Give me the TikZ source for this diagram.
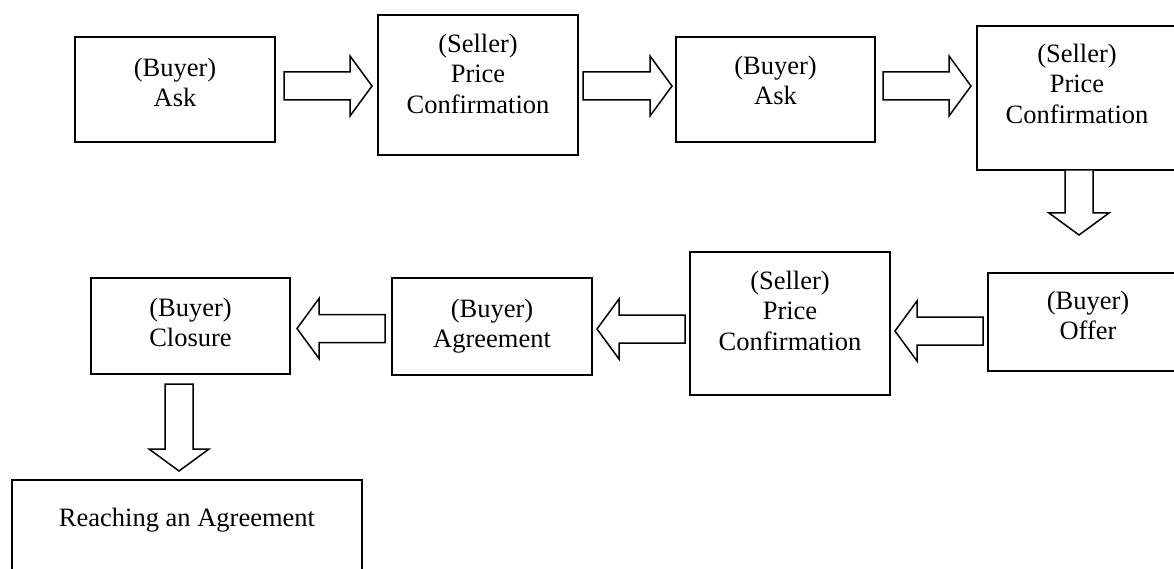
\documentclass[tikz,border=0pt]{standalone}
\usepackage{fontspec}
\setmainfont{Liberation Serif}
\usetikzlibrary{calc}
\tikzset{
  box/.style={draw, line width=1.8pt, rectangle, inner sep=0pt},
  lbl/.style={anchor=north, align=center, inner sep=0pt, font=\fontsize{26.5}{30.5}\selectfont},
  barrowstyle/.style={draw, line width=1.5pt, fill=white, line join=miter}
}
\newcommand\blockarrow[2]{%
  \coordinate (tmpH) at ($(#2)!22pt!(#1)$);
  \draw[barrowstyle] ($(#1)!14pt!90:(#2)$) -- ($(tmpH)!14pt!90:(#2)$) -- ($(tmpH)!30pt!90:(#2)$) -- (#2) -- ($(tmpH)!30pt!-90:(#2)$) -- ($(tmpH)!14pt!-90:(#2)$) -- ($(#1)!14pt!-90:(#2)$) -- cycle;}
\begin{document}
\begin{tikzpicture}[x=1pt,y=-1pt]
\useasboundingbox (0,0) rectangle (1174,569);
\clip (0,0) rectangle (1174,569);
% boxes
\node[box, minimum width=200pt, minimum height=105pt] (b1) at (175,89.5) {};
\node[box, minimum width=200pt, minimum height=140pt] (b2) at (478,85) {};
\node[box, minimum width=199pt, minimum height=105pt] (b3) at (775.5,89.5) {};
\node[box, minimum width=200pt, minimum height=144pt] (b4) at (1077,98) {};
\node[box, minimum width=200pt, minimum height=98pt] (b5) at (1088,322) {};
\node[box, minimum width=200pt, minimum height=143pt] (b6) at (790,323.5) {};
\node[box, minimum width=200pt, minimum height=97pt] (b7) at (492,326.5) {};
\node[box, minimum width=199pt, minimum height=96pt] (b8) at (190.5,326) {};
\node[box, minimum width=350pt, minimum height=120pt] (b9) at (187,540) {};
% texts
\node[lbl] (t1) at (175,57.5) {(Buyer)\\Ask};
\node[lbl] (t2) at (478,33.5) {(Seller)\\Price\\Confirmation};
\node[lbl] (t3) at (775.5,55.5) {(Buyer)\\Ask};
\node[lbl] (t4) at (1077,43.5) {(Seller)\\Price\\Confirmation};
\node[lbl] (t5) at (1088,290.5) {(Buyer)\\Offer};
\node[lbl] (t6) at (790,270.5) {(Seller)\\Price\\Confirmation};
\node[lbl] (t7) at (492,298.5) {(Buyer)\\Agreement};
\node[lbl] (t8) at (190.5,297.5) {(Buyer)\\Closure};
\node[lbl] (t9) at (187,507.5) {Reaching an Agreement};
% arrow end points
\coordinate (a1s) at (284,86);   \coordinate (a1e) at (372,86);
\coordinate (a2s) at (583,86);   \coordinate (a2e) at (672,86);
\coordinate (a3s) at (883,86);   \coordinate (a3e) at (971,86);
\coordinate (a4s) at (1079,170); \coordinate (a4e) at (1079,235);
\coordinate (a5s) at (983,331);  \coordinate (a5e) at (895,331);
\coordinate (a6s) at (685,329);  \coordinate (a6e) at (597,329);
\coordinate (a7s) at (385,328.5);\coordinate (a7e) at (297,328.5);
\coordinate (a8s) at (179,384);  \coordinate (a8e) at (179,471);
\blockarrow{a1s}{a1e}
\blockarrow{a2s}{a2e}
\blockarrow{a3s}{a3e}
\blockarrow{a4s}{a4e}
\blockarrow{a5s}{a5e}
\blockarrow{a6s}{a6e}
\blockarrow{a7s}{a7e}
\blockarrow{a8s}{a8e}
\end{tikzpicture}
\end{document}
